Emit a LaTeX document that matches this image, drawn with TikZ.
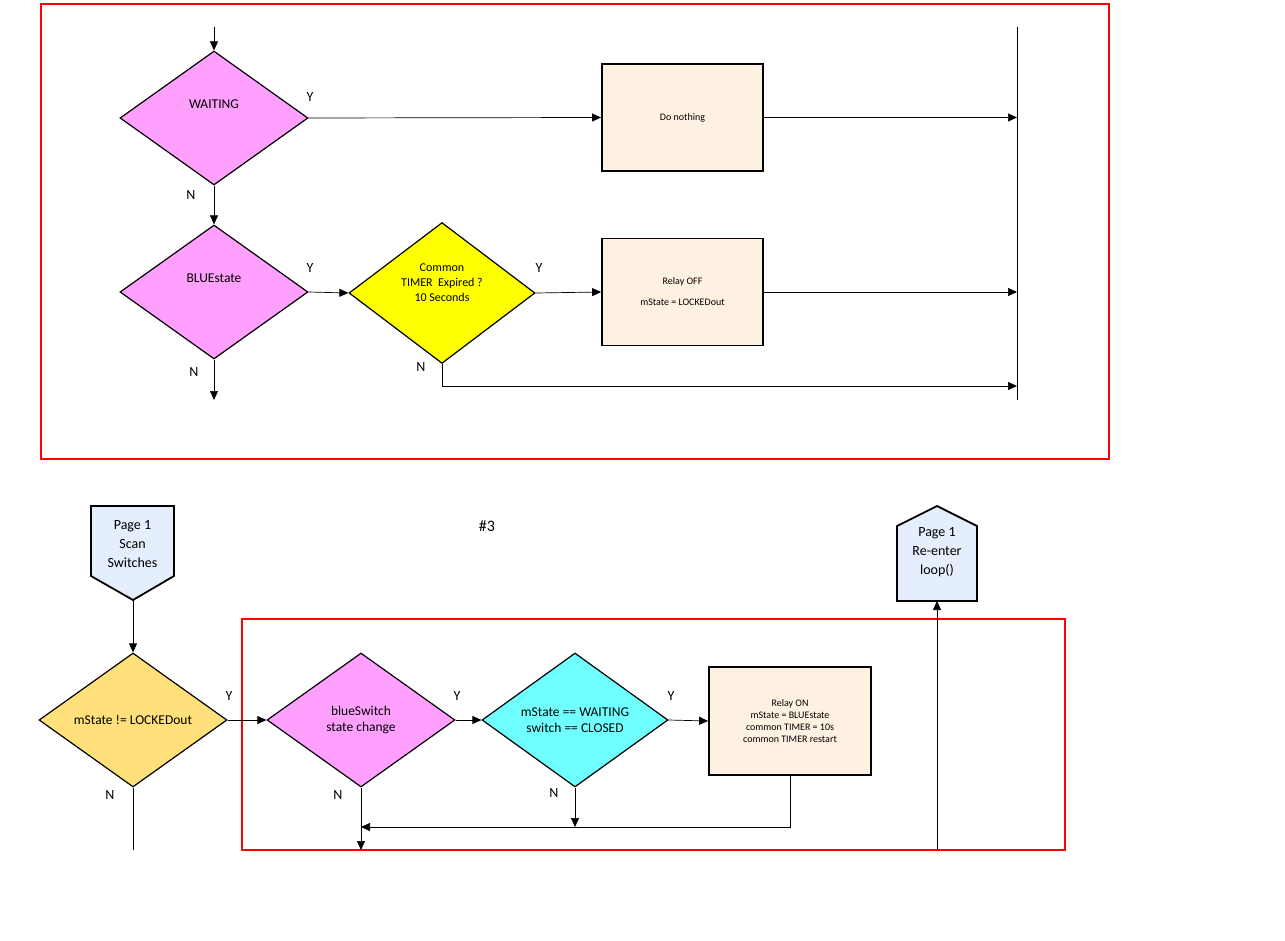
\documentclass[tikz,border=0pt]{standalone}
\usepackage{fontspec}
\setmainfont{Carlito}
\usetikzlibrary{shapes.geometric,arrows.meta}
\definecolor{pinkd}{HTML}{FFA0FF}
\definecolor{yelld}{HTML}{FFFF00}
\definecolor{orad}{HTML}{FFE07A}
\definecolor{cyand}{HTML}{70FFFF}
\definecolor{boxc}{HTML}{FFF1E2}
\definecolor{pagec}{HTML}{E4EEFC}
\begin{document}
\begin{tikzpicture}[x=1pt,y=-1pt,
  dec/.style={diamond,draw=black,line width=1.2pt,inner sep=0pt,minimum width=188pt,minimum height=134pt,align=center,font=\fontsize{13.5}{16}\selectfont},
  actbox/.style={rectangle,draw=black,line width=1.8pt,fill=boxc,minimum width=161pt,minimum height=107pt,align=center,font=\fontsize{10}{12}\selectfont},
  arr/.style={-{Triangle[length=9pt,width=8pt]},line width=0.7pt},
  ln/.style={line width=0.7pt},
  lab/.style={font=\fontsize{14}{16}\selectfont},
  redbox/.style={draw=red,line width=2.4pt}]
\useasboundingbox (0,0) rectangle (1285,941);
% red frames
\draw[redbox] (41,4) rectangle (1109,459);
\draw[redbox] (242,619) rectangle (1065,850);
% top part
\coordinate (topin) at (214,27);
\node[dec,fill=pinkd] (wait) at (214,118) {WAITING\\[6pt]\strut};
\node[actbox] (nothing) at (682.5,117.5) {Do nothing};
\node[dec,fill=pinkd] (blue) at (214,292) {BLUEstate\\[6pt]\strut};
\node[dec,fill=yelld,minimum width=186pt,font=\fontsize{12}{15}\selectfont] (timer) at (442,293) {Common\\TIMER\ \ Expired ?\\10 Seconds\\[2pt]\strut};
\node[actbox] (off) at (682.5,292) {Relay OFF\\[9pt]mState = LOCKEDout};
\coordinate (vtop) at (1017,27);
\coordinate (vbot) at (1017,400);
\draw[ln] (vtop) -- (vbot);
\draw[arr] (topin) -- (wait.north);
\draw[arr] (wait.east) -- (nothing.west);
\draw[arr] (nothing.east) -- (nothing.east -| vtop);
\draw[arr] (wait.south) -- (blue.north);
\draw[arr] (blue.east) -- (timer.west);
\draw[arr] (timer.east) -- (off.west);
\draw[arr] (off.east) -- (off.east -| vtop);
\coordinate (tn) at (442,386);
\draw[arr] (timer.south) -- (tn) -- (tn -| vtop);
\coordinate (bn) at (214,400);
\draw[arr] (blue.south) -- (bn);
\node[lab] at (310,97) {Y};
\node[lab] at (191,195) {N};
\node[lab] at (310,268) {Y};
\node[lab] at (539,268) {Y};
\node[lab] at (421,367) {N};
\node[lab] at (194,372) {N};
% bottom part
\node[font=\fontsize{16}{18}\selectfont] (num) at (487,526) {\#3};
\draw[line width=1.8pt,fill=pagec] (91,506) -- (174,506) -- (174,576) -- (133,600) -- (91,576) -- cycle;
\node[align=center,font=\fontsize{14}{19}\selectfont] (scan) at (132.5,544) {Page 1\\Scan\\Switches};
\coordinate (scanp) at (133,600);
\draw[line width=1.8pt,fill=pagec] (937,506) -- (977,526) -- (977,601) -- (897,601) -- (897,526) -- cycle;
\node[align=center,font=\fontsize{14}{19}\selectfont] (reent) at (937,552) {Page 1\\Re-enter\\loop()};
\coordinate (reentb) at (937,601);
\node[dec,fill=orad] (lock) at (133,720) {mState != LOCKEDout};
\node[dec,fill=pinkd] (bsw) at (361,720) {blueSwitch\\state change};
\node[dec,fill=cyand,minimum width=186pt] (cy) at (575,720) {mState == WAITING\\switch == CLOSED};
\node[actbox,minimum width=162pt,minimum height=108pt] (on) at (790,721) {Relay ON\\mState = BLUEstate\\common TIMER = 10s\\common TIMER restart};
\draw[arr] (scanp) -- (lock.north);
\draw[arr] (lock.east) -- (bsw.west);
\draw[arr] (bsw.east) -- (cy.west);
\draw[arr] (cy.east) -- (on.west);
\coordinate (lockb) at (133,850);
\draw[ln] (lock.south) -- (lockb);
\coordinate (onb) at (790,827);
\draw[arr] (on.south) -- (onb) -- (onb -| bsw.south);
\draw[arr] (cy.south) -- (cy.south |- onb);
\coordinate (bswb) at (361,850);
\draw[arr] (bsw.south) -- (bswb);
\coordinate (rb) at (937,850);
\draw[arr] (rb) -- (reentb);
\node[lab] at (229,696) {Y};
\node[lab] at (110,795) {N};
\node[lab] at (457,696) {Y};
\node[lab] at (338,795) {N};
\node[lab] at (671,696) {Y};
\node[lab] at (554,793) {N};
\end{tikzpicture}
\end{document}
